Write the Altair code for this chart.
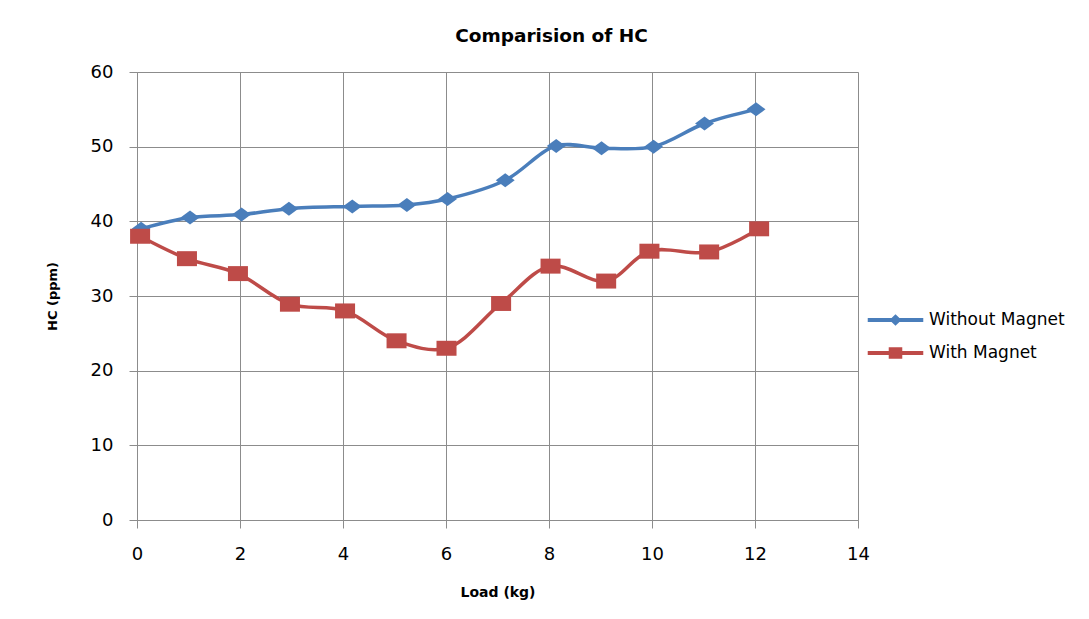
import altair as alt
import pandas as pd

# ---- data ----
series_names = ["Without Magnet", "With Magnet"]
series_colors = ["#4A7EBB", "#BE4B48"]

load_without = [0.08, 1.03, 2.03, 2.95, 4.18, 5.24, 6.03, 7.15, 8.14, 9.02, 10.03, 11.02, 12.02]
hc_without = [39.0, 40.5, 40.9, 41.7, 42.0, 42.2, 43.0, 45.5, 50.1, 49.8, 50.0, 53.1, 55.0]

load_with = [0.06, 0.97, 1.96, 2.97, 4.04, 5.04, 6.01, 7.07, 8.03, 9.11, 9.95, 11.11, 12.08]
hc_with = [38.0, 35.0, 33.0, 28.9, 28.0, 24.0, 23.0, 29.0, 34.0, 32.0, 36.0, 35.9, 39.0]

x_ticks = [0, 2, 4, 6, 8, 10, 12, 14]
y_ticks = [0, 10, 20, 30, 40, 50, 60]

df = pd.concat([
    pd.DataFrame({"load": load_without, "hc": hc_without, "series": series_names[0]}),
    pd.DataFrame({"load": load_with, "hc": hc_with, "series": series_names[1]}),
], ignore_index=True)

# marker shapes (slightly wide, like the stretched original)
plot_shapes = ["M0,-1L1.35,0L0,1L-1.35,0Z", "M-1.43,-1.07H1.43V1.07H-1.43Z"]
legend_shapes = [
    "M-3.86,-0.17H3.86V0.17H-3.86Z M0,-0.68L0.7,0L0,0.68L-0.7,0Z",
    "M-3.86,-0.17H3.86V0.17H-3.86Z M-0.86,-0.71H0.86V0.71H-0.86Z",
]

grid_col = "#8C8C8C"
font = "DejaVu Sans"

color_scale = alt.Scale(domain=series_names, range=series_colors)

x_enc = alt.X(
    "load:Q",
    scale=alt.Scale(domain=[0, 14], nice=False, zero=False),
    axis=alt.Axis(
        values=x_ticks, title="Load (kg)", grid=True, gridColor=grid_col,
        domainColor=grid_col, tickColor=grid_col, tickSize=8,
        labelPadding=17, labelFont=font, labelFontSize=18, labelColor="black",
        labelFlush=False, labelOverlap=False,
        titleFont=font, titleFontSize=14, titleFontWeight="bold", titleColor="black",
        titlePadding=22,
    ),
)
y_enc = alt.Y(
    "hc:Q",
    scale=alt.Scale(domain=[0, 60], nice=False),
    axis=alt.Axis(
        values=y_ticks, title="HC (ppm)", grid=True, gridColor=grid_col,
        domainColor=grid_col, tickColor=grid_col, tickSize=8,
        labelPadding=16, labelFont=font, labelFontSize=18, labelColor="black",
        labelFlush=False, labelOverlap=False,
        titleFont=font, titleFontSize=13, titleFontWeight="bold", titleColor="black",
        titlePadding=31,
    ),
)

legend = alt.Legend(
    orient="none", legendX=750, legendY=239.5, title=None, padding=0,
    labelFont=font, labelFontSize=17, labelColor="black", labelOffset=25,
    rowPadding=15, symbolSize=196, symbolOpacity=1,
)

color_enc = alt.Color("series:N", scale=color_scale, legend=legend)

lines = alt.Chart(df).mark_line(interpolate="catmull-rom", strokeWidth=3.5).encode(
    x=x_enc, y=y_enc, color=color_enc,
)

points_without = alt.Chart(df).transform_filter(
    alt.datum.series == series_names[0]
).mark_point(filled=True, size=196, opacity=1, shape=plot_shapes[0]).encode(
    x=x_enc, y=y_enc, color=color_enc,
)

points_with = alt.Chart(df).transform_filter(
    alt.datum.series == series_names[1]
).mark_point(filled=True, size=196, opacity=1, shape=plot_shapes[1]).encode(
    x=x_enc, y=y_enc, color=color_enc,
)

# invisible layer that only supplies the legend symbols (line + marker)
legend_carrier = alt.Chart(df).mark_point(filled=True, size=196, opacity=0).encode(
    x=x_enc, y=y_enc, color=color_enc,
    shape=alt.Shape("series:N", scale=alt.Scale(domain=series_names, range=legend_shapes), legend=legend),
)

chart = alt.layer(lines, points_without, points_with, legend_carrier).properties(
    width=721, height=448,
    title=alt.Title("Comparision of HC", font=font, fontSize=18.5, fontWeight="bold",
                    color="black", anchor="middle", dx=54, offset=18),
    autosize=alt.AutoSizeParams(type="none"),
    padding={"left": 129, "top": 64, "right": 223, "bottom": 91},
).configure_view(stroke=None).configure(background="white")

chart.save("out.html", embed_options={"renderer": "svg", "actions": False})
